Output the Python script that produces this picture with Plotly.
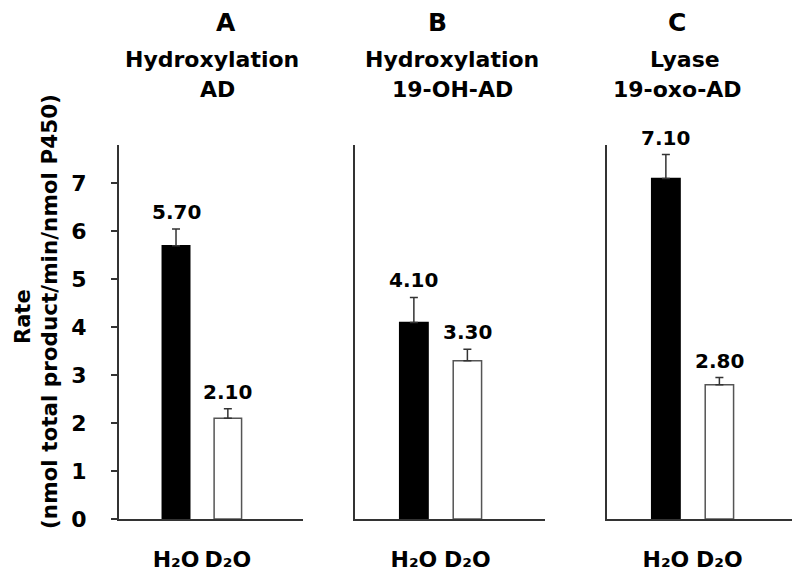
import plotly.graph_objects as go

panels = ["A", "B", "C"]
panel_titles = ["Hydroxylation<br>AD", "Hydroxylation<br>19-OH-AD", "Lyase<br>19-oxo-AD"]
categories = ["H₂O", "D₂O"]
h2o_values = [5.70, 4.10, 7.10]
d2o_values = [2.10, 3.30, 2.80]
h2o_errors = [0.35, 0.52, 0.50]
d2o_errors = [0.20, 0.24, 0.15]
y_ticks = [0, 1, 2, 3, 4, 5, 6, 7]

FONT = "DejaVu Sans"
AXC = "#333333"
W, H = 800, 580
OFF = 8  # page body margin offset
domains_px = [(119, 303), (355, 545), (607, 797)]
x_pos = [0, 1]


def px_x(p):
    return (p - OFF) / W


def px_y(p):
    return 1 - (p - OFF) / H


def tfont(size):
    return dict(family=FONT, size=size, color="black", weight="bold")


fig = go.Figure()
layout = dict(
    width=W, height=H, margin=dict(l=0, r=0, t=0, b=0, autoexpand=False),
    paper_bgcolor="white", plot_bgcolor="white", showlegend=False,
    font=dict(family=FONT, color="black"),
)
annotations = []
title_x = [(226, 212, 217), (437, 452, 452), (677, 685, 677)]
for i in range(3):
    xa = "x" if i == 0 else f"x{i+1}"
    ya = "y" if i == 0 else f"y{i+1}"
    vals = [h2o_values[i], d2o_values[i]]
    errs = [h2o_errors[i], d2o_errors[i]]
    fig.add_trace(go.Bar(
        x=x_pos, y=vals, width=0.53,
        marker=dict(color=["black", "white"], line=dict(color=["black", "#555555"], width=1.5)),
        error_y=dict(type="data", symmetric=False, array=errs, arrayminus=[0, 0],
                     color=AXC, thickness=1.5, width=4),
        xaxis=xa, yaxis=ya, hoverinfo="skip",
    ))
    d0, d1 = domains_px[i]
    xkey = "xaxis" if i == 0 else f"xaxis{i+1}"
    ykey = "yaxis" if i == 0 else f"yaxis{i+1}"
    layout[xkey] = dict(
        domain=[px_x(d0), px_x(d1)], range=[-1.1, 2.45],
        tickmode="array", tickvals=x_pos, ticktext=categories, tickangle=0,
        showline=True, linecolor=AXC, linewidth=2, ticks="", showgrid=False,
        zeroline=False, anchor=ya, ticklabelstandoff=20, automargin=False,
        tickfont=tfont(22), fixedrange=True,
    )
    layout[ykey] = dict(
        domain=[px_y(519), px_y(145)], range=[0, 7.8],
        showline=True, linecolor=AXC, linewidth=2, showgrid=False, zeroline=False,
        anchor=xa, fixedrange=True, automargin=False,
        tickmode="array", tickvals=y_ticks if i == 0 else [],
        ticks="outside" if i == 0 else "", ticklen=6, tickcolor=AXC, tickwidth=1.5,
        showticklabels=(i == 0), ticklabelstandoff=20,
        tickfont=tfont(22),
    )
    # value labels
    for xp, v, e in zip(x_pos, vals, errs):
        annotations.append(dict(
            x=xp, y=v + e, xref=xa, yref=ya, text=f"{v:.2f}",
            showarrow=False, xanchor="center", yanchor="bottom", yshift=3,
            font=tfont(20),
        ))
    # titles
    lines = panel_titles[i].split("<br>")
    tx = title_x[i]
    annotations.append(dict(x=px_x(tx[0]), y=px_y(23), xref="paper", yref="paper",
                            text=panels[i], showarrow=False, xanchor="center",
                            yanchor="middle", font=tfont(25)))
    annotations.append(dict(x=px_x(tx[1]), y=px_y(60), xref="paper", yref="paper",
                            text=lines[0], showarrow=False, xanchor="center",
                            yanchor="middle", font=tfont(22)))
    annotations.append(dict(x=px_x(tx[2]), y=px_y(90), xref="paper", yref="paper",
                            text=lines[1], showarrow=False, xanchor="center",
                            yanchor="middle", font=tfont(22)))

annotations.append(dict(x=px_x(23), y=px_y(317), xref="paper", yref="paper",
                        text="Rate", textangle=-90, showarrow=False,
                        xanchor="center", yanchor="middle", font=tfont(21)))
annotations.append(dict(x=px_x(49), y=px_y(312), xref="paper", yref="paper",
                        text="(nmol total product/min/nmol P450)", textangle=-90,
                        showarrow=False, xanchor="center", yanchor="middle",
                        font=tfont(21.5)))
layout["annotations"] = annotations
fig.update_layout(**layout)
fig.write_html("out.html")
